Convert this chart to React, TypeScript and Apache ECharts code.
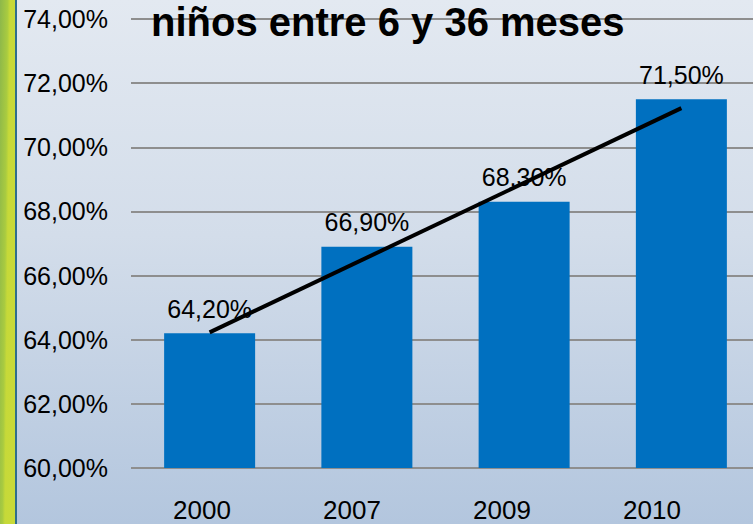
import React, { useEffect, useRef } from "react";
import * as echarts from "echarts";

const categories = ["2000", "2007", "2009", "2010"];
const coverage = [64.2, 66.9, 68.3, 71.5];
const trend: (number | null)[] = [64.23, null, null, 71.22];
const yMin = 60;
const yMax = 74;
const yStep = 2;
const titleText = "niños entre 6 y 36 meses";

const FONT = "'Liberation Sans', Arial, sans-serif";
const pct = (v: number) => v.toFixed(2).replace(".", ",") + "%";

export default function App() {
  const ref = useRef<HTMLDivElement>(null);
  useEffect(() => {
    document.body.style.margin = "0";
    const chart = echarts.init(ref.current!, undefined, { renderer: "svg" });
    chart.setOption({
      animation: false,
      backgroundColor: "transparent",
      title: {
        text: titleText,
        left: 151,
        top: 2,
        padding: 0,
        textStyle: { fontFamily: FONT, fontSize: 40, fontWeight: "bold", color: "#000" },
        z: 10,
      },
      graphic: [
        {
          type: "rect",
          shape: { x: 0, y: 0, width: 15, height: 524 },
          style: {
            fill: new echarts.graphic.LinearGradient(0, 0, 1, 0.35, [
              { offset: 0, color: "#8DB84A" },
              { offset: 0.45, color: "#A9CB40" },
              { offset: 0.6, color: "#C6D939" },
              { offset: 1, color: "#C8DA38" },
            ]),
          },
          z: 1,
        },
        {
          type: "rect",
          shape: { x: 15, y: 0, width: 2, height: 524 },
          style: { fill: "#2F6E8C" },
          z: 1,
        },
      ],
      grid: [
        { left: 131, top: 19, width: 629, height: 449 },
        { left: 127, top: 19, width: 600, height: 449 },
      ],
      xAxis: [
        {
          type: "category",
          gridIndex: 0,
          data: categories,
          axisLine: { show: false },
          axisTick: { show: false },
          axisLabel: { show: false },
        },
        {
          type: "category",
          gridIndex: 1,
          data: categories,
          axisLine: { show: false },
          axisTick: { show: false },
          axisLabel: { fontFamily: FONT, fontSize: 26, color: "#000", margin: 29 },
        },
      ],
      yAxis: [
        {
          type: "value",
          gridIndex: 0,
          min: yMin,
          max: yMax,
          interval: yStep,
          axisLine: { show: false },
          axisTick: { show: false },
          axisLabel: {
            fontFamily: FONT,
            fontSize: 25,
            color: "#000",
            margin: 23,
            formatter: (v: number) => pct(v),
          },
          splitLine: { lineStyle: { color: "#8E8E8E", width: 2 } },
        },
        {
          type: "value",
          gridIndex: 1,
          min: yMin,
          max: yMax,
          interval: yStep,
          show: false,
          splitLine: { show: false },
        },
      ],
      series: [
        {
          type: "bar",
          xAxisIndex: 0,
          yAxisIndex: 0,
          data: coverage,
          barWidth: 91,
          itemStyle: { color: "#0070C0" },
          label: {
            show: true,
            position: "top",
            distance: 12,
            fontFamily: FONT,
            fontSize: 25,
            color: "#000",
            formatter: (p: any) => pct(p.value),
          },
          z: 2,
        },
        {
          type: "line",
          xAxisIndex: 0,
          yAxisIndex: 0,
          data: trend,
          connectNulls: true,
          symbol: "none",
          lineStyle: { color: "#000", width: 4 },
          z: 5,
        },
      ],
    });
    return () => chart.dispose();
  }, []);
  return (
    <div
      style={{
        position: "fixed",
        left: 0,
        top: 0,
        width: 753,
        height: 524,
        overflow: "hidden",
        background: "linear-gradient(180deg, #E3E9F1 0%, #D3DDEA 45%, #B3C6DE 100%)",
      }}
    >
      <div ref={ref} style={{ width: 780, height: 524 }} />
    </div>
  );
}
